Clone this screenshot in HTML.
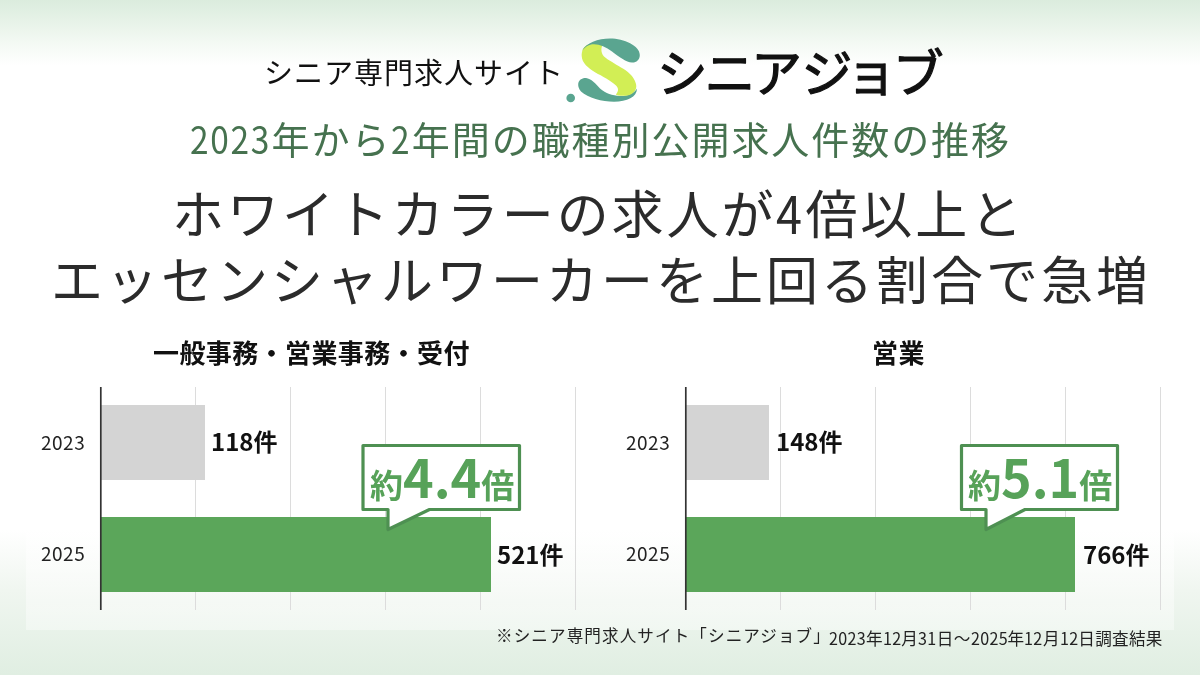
<!DOCTYPE html>
<html lang="ja">
<head>
<meta charset="utf-8">
<style>
html,body{margin:0;padding:0;}
body{width:1200px;height:675px;overflow:hidden;position:relative;
  font-family:"Liberation Sans","Noto Sans CJK JP",sans-serif;
  background:linear-gradient(to bottom,#dbecdd 0px,#e6f2e7 20px,#f3f9f3 42px,#ffffff 66px,#ffffff 530px,#f0f6f0 590px,#e0eee2 675px);}
.a{position:absolute;white-space:nowrap;line-height:1;}
.jp{font-family:"Noto Sans CJK JP",sans-serif;}
.d{--s:.88;display:inline-block;transform:scaleX(var(--s));transform-origin:0 0;margin-right:calc(var(--n)*(var(--s) - 1)*0.555em);}
.db{--s:1;display:inline-block;transform:scaleX(var(--s));transform-origin:0 0;margin-right:calc(var(--n)*(var(--s) - 1)*0.59em);}
#panel{position:absolute;left:26px;top:318px;width:1148px;height:312px;
  background:linear-gradient(to bottom,rgba(255,255,255,0) 0,rgba(255,255,255,.6) 200px,rgba(255,255,255,.38) 100%);}
.grid{position:absolute;width:1px;background:#dcdcdc;top:387px;height:223px;}
.axis{position:absolute;width:2px;background:#444;top:387px;height:223px;}
.bar{position:absolute;}
.gray{background:#d4d4d4;}
.green{background:#5ba65a;}
.yl{font-family:"Noto Sans CJK JP",sans-serif;font-size:19px;color:#222;letter-spacing:0.5px;}
.val{font-family:"Noto Sans CJK JP",sans-serif;font-size:24px;font-weight:700;color:#111;}
.ct{font-family:"Noto Sans CJK JP",sans-serif;font-size:26px;font-weight:700;color:#111;letter-spacing:0.4px;}
#foot2 .d{--s:.97;}
#t1 .d{--s:.9;}
</style>
</head>
<body>
<div id="panel"></div>

<!-- header -->
<div class="a jp" id="site" style="left:264px;top:57px;font-size:29px;color:#111;letter-spacing:1px;">シニア専門求人サイト</div>

<svg class="a" id="logo" style="left:0;top:0" width="1200" height="120" viewBox="0 0 1200 120">
  <circle cx="570.7" cy="98" r="4.3" fill="#5aa590"/>
  <path fill="#5aa590" d="M578.2,84 C578.5,80 582,77.8 586,78 C591,78.5 596,84 600,88.5 C606,93.5 612,95.5 620,96 C627,96.3 634,93.5 637,88.5 C637,97 627,101.7 614,101.7 C602,101.7 588,98 581,91.5 C579,89 578,86.5 578.2,84 Z"/>
  <path fill="#d2ee55" d="M586.7,45.3 C589,44 597,43.4 603,44.2 C601,47 600.5,52.5 604,56.5 C608,60 615,63.5 621,67.6 C627,71 634,76 636,84 C637.5,90 633,95 626,95.7 C621,96.2 617,95.5 615.8,94.6 C619,91 618.5,88 616,85.5 C611,80.5 602,76 595.4,72.4 C588,68 582,63 581.7,56 C581.5,51 583.5,47 586.7,45.3 Z"/>
  <path fill="#5aa590" d="M582,51 C586,43 598,38.6 610,38.6 C624,38.6 639.8,46 639.8,55 C639.8,60 636,62.8 632,62.5 C626,62 620,57.5 612,51.5 C606,47 600,44.5 594,44.3 C589,44.3 585,47 582,51 Z"/>
  <text x="656.7 704.4 751 801.5 845.7 892.7" y="92" font-family="Noto Sans CJK JP, sans-serif" font-weight="400" font-size="51" fill="#111" stroke="#111" stroke-width="1.2" stroke-linejoin="round" stroke-linecap="round">シニアジョブ</text>
</svg>

<div class="a jp" id="sub" style="left:189.5px;top:119px;font-size:38px;font-weight:400;color:#46724f;letter-spacing:1.94px;"><span class="d" style="--n:4">2023</span>年から<span class="d" style="--n:1">2</span>年間の職種別公開求人件数の推移</div>

<div class="a jp" id="t1" style="left:172px;top:186px;font-size:52px;color:#2b2b2b;letter-spacing:2.95px;">ホワイトカラーの求人が<span class="d" style="--n:1">4</span>倍以上と</div>
<div class="a jp" id="t2" style="left:51px;top:252px;font-size:52px;color:#2b2b2b;letter-spacing:3.0px;">エッセンシャルワーカーを上回る割合で急増</div>

<!-- left chart -->
<div class="a ct" id="ct1" style="left:153px;top:339px;">一般事務・営業事務・受付</div>
<div class="grid" style="left:195px"></div>
<div class="grid" style="left:290px"></div>
<div class="grid" style="left:385px"></div>
<div class="grid" style="left:480px"></div>
<div class="grid" style="left:575px"></div>
<div class="bar gray" style="left:101px;top:405px;width:104px;height:75px;"></div>
<div class="bar green" style="left:101px;top:517px;width:390px;height:75px;"></div>
<div class="a yl" style="left:41px;top:432px;">2023</div>
<div class="a yl" style="left:41px;top:543px;">2025</div>
<div class="a val" style="left:211px;top:429px;"><span class="db" style="--n:3">118</span>件</div>
<div class="a val" style="left:497px;top:541.5px;"><span class="db" style="--n:3">521</span>件</div>

<!-- right chart -->
<div class="a ct" id="ct2" style="left:872px;top:339px;">営業</div>
<div class="grid" style="left:780px"></div>
<div class="grid" style="left:875px"></div>
<div class="grid" style="left:970px"></div>
<div class="grid" style="left:1065px"></div>
<div class="grid" style="left:1160px"></div>
<div class="bar gray" style="left:686px;top:405px;width:83px;height:75px;"></div>
<div class="bar green" style="left:686px;top:517px;width:389px;height:75px;"></div>
<div class="a yl" style="left:626px;top:432px;">2023</div>
<div class="a yl" style="left:626px;top:543px;">2025</div>
<div class="a val" style="left:776px;top:429px;"><span class="db" style="--n:3">148</span>件</div>
<div class="a val" style="left:1083px;top:541.5px;"><span class="db" style="--n:3">766</span>件</div>

<!-- callouts -->
<svg class="a" style="left:0;top:0" width="1200" height="675" viewBox="0 0 1200 675">
  <line x1="100.8" y1="387" x2="100.8" y2="610" stroke="#333" stroke-width="1.7"/>
  <line x1="685.8" y1="387" x2="685.8" y2="610" stroke="#333" stroke-width="1.7"/>
  <path d="M363 445.5 H519.5 V509.5 H429.5 L388 529.5 V509.5 H363 Z" fill="#fff" stroke="#4e9052" stroke-width="3.2" stroke-linejoin="round"/>
  <path d="M961.5 445.5 H1117.5 V509.5 H1025 L986 529.5 V509.5 H961.5 Z" fill="#fff" stroke="#4e9052" stroke-width="3.2" stroke-linejoin="round"/>
</svg>
<div class="a jp" id="c1" style="left:370px;top:450px;color:#57a259;font-weight:700;"><span style="font-size:33px">約</span><span style="font-size:52px">4.4</span><span style="font-size:33px">倍</span></div>
<div class="a jp" id="c2" style="left:968px;top:450px;color:#57a259;font-weight:700;"><span style="font-size:33px">約</span><span style="font-size:52px">5.1</span><span style="font-size:33px">倍</span></div>

<!-- footnote -->
<div class="a jp" id="foot" style="left:496px;top:627px;font-size:16.6px;color:#222;letter-spacing:1.07px;">※シニア専門求人サイト「シニアジョブ」</div>
<div class="a jp" id="foot2" style="left:829px;top:630px;font-size:16.6px;color:#222;letter-spacing:0.3px;"><span class="d" style="--n:4">2023</span>年<span class="d" style="--n:2">12</span>月<span class="d" style="--n:2">31</span>日～<span class="d" style="--n:4">2025</span>年<span class="d" style="--n:2">12</span>月<span class="d" style="--n:2">12</span>日調査結果</div>
</body>
</html>
